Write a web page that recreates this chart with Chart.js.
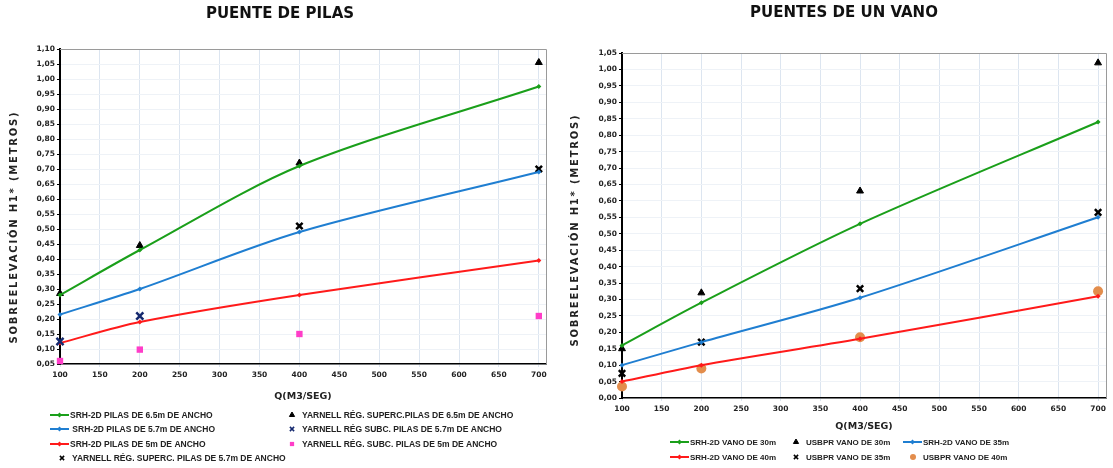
<!DOCTYPE html>
<html>
<head>
<meta charset="utf-8">
<script src="https://cdn.jsdelivr.net/npm/chart.js@4.4.0/dist/chart.umd.min.js"></script>
<style>
  body { margin: 0; background: #fff; }
  #wrap { position: relative; width: 1113px; height: 468px; }
  #chart1 { position: absolute; left: 0; top: 0; }
  #chart2 { position: absolute; left: 560px; top: 0; }
</style>
</head>
<body>
<div id="wrap">
  <canvas id="chart1" width="560" height="468"></canvas>
  <canvas id="chart2" width="553" height="468"></canvas>
</div>
<script>
// caudales Q (m3/seg)
const caudales = [100, 200, 400, 700];

// puente de pilas
const srhPilas65 = [0.28, 0.43, 0.71, 0.975];
const srhPilas57 = [0.215, 0.30, 0.49, 0.69];
const srhPilas5 = [0.12, 0.19, 0.28, 0.395];
const yarnellSuperc65 = [0.285, 0.445, 0.72, 1.055];
const caudalesSubc57 = [100, 200];
const yarnellSubc57 = [0.125, 0.21];
const yarnellSubc5 = [0.06, 0.098, 0.15, 0.21];
const caudalesSuperc57 = [400, 700];
const yarnellSuperc57 = [0.51, 0.70];

// puentes de un vano
const srhVano30 = [0.16, 0.29, 0.53, 0.84];
const usbprVano30 = [0.15, 0.32, 0.63, 1.02];
const srhVano35 = [0.10, 0.17, 0.305, 0.55];
const srhVano40 = [0.05, 0.10, 0.18, 0.31];
const usbprVano35 = [0.075, 0.17, 0.333, 0.565];
const usbprVano40 = [0.035, 0.09, 0.185, 0.325];

const Y_TITLE = 'SOBREELEVACIÓN H1* (METROS)';
const FONT = 'DejaVu Sans';
const TXT = '#222';

const pts = (xs, ys) => xs.map((x, i) => ({ x: x, y: ys[i] }));
const fmt = v => Number(v).toFixed(2).replace('.', ',');

const lineSet = (label, xs, ys, color) => ({
    label: label,
    data: pts(xs, ys),
    borderColor: color,
    backgroundColor: color,
    borderWidth: 2,
    tension: 0.3,
    pointStyle: 'rectRot',
    pointRadius: 2.5,
    pointBorderWidth: 0,
    clip: false,
});

const markSet = (label, xs, ys, color, style, radius, bw) => ({
    label: label,
    data: pts(xs, ys),
    showLine: false,
    borderColor: color,
    backgroundColor: color,
    pointStyle: style,
    pointRadius: radius,
    pointBorderWidth: bw,
    clip: false,
});

// titulo, titulo del eje y, borde del grafico y leyenda dibujados a mano
const extras = {
    id: 'extras',
    beforeDatasetsDraw(chart) {
        const a = chart.chartArea, ctx = chart.ctx;
        ctx.save();
        ctx.strokeStyle = '#9a9a9a';
        ctx.lineWidth = 1;
        ctx.beginPath();
        ctx.moveTo(a.left, a.top + 0.5);
        ctx.lineTo(a.right + 0.5, a.top + 0.5);
        ctx.lineTo(a.right + 0.5, a.bottom);
        ctx.stroke();
        ctx.restore();
    },
    afterDraw(chart, args, opts) {
        const ctx = chart.ctx;
        ctx.save();
        ctx.fillStyle = '#111';
        ctx.font = 'bold 15px ' + FONT;
        ctx.textAlign = 'center';
        ctx.textBaseline = 'middle';
        ctx.fillText(opts.title, opts.titleX, opts.titleY);

        // eje y con letras espaciadas
        ctx.save();
        ctx.translate(opts.yTitleX, opts.yTitleY);
        ctx.rotate(-Math.PI / 2);
        ctx.fillStyle = TXT;
        ctx.font = 'bold 10px ' + FONT;
        ctx.letterSpacing = '1.8px';
        ctx.fillText(Y_TITLE, 0, 0);
        ctx.restore();

        ctx.font = 'bold ' + opts.legendSize + 'px "Liberation Sans"';
        ctx.textAlign = 'left';
        chart.data.datasets.forEach((ds, i) => {
            const p = opts.legend[i];
            const x = p[0], y = p[1];
            ctx.fillStyle = ds.backgroundColor;
            ctx.strokeStyle = ds.borderColor;
            let tx;
            if (ds.showLine === false) {
                ctx.lineWidth = Math.min(ds.pointBorderWidth, 1.5);
                Chart.helpers.drawPoint(ctx, {
                    pointStyle: ds.pointStyle,
                    radius: Math.min(ds.pointRadius, 3),
                    borderWidth: ds.pointBorderWidth,
                    rotation: 0
                }, x, y);
                tx = x + 10;
            } else {
                ctx.lineWidth = 2;
                ctx.beginPath();
                ctx.moveTo(x, y);
                ctx.lineTo(x + 19, y);
                ctx.stroke();
                Chart.helpers.drawPoint(ctx, {
                    pointStyle: ds.pointStyle, radius: 2.5, borderWidth: 0, rotation: 0
                }, x + 9.5, y);
                tx = x + 20;
            }
            ctx.fillStyle = TXT;
            ctx.fillText(ds.label, tx, y + 0.5);
        });
        ctx.restore();
    }
};

const scales = (xmax, ymin, ymax, yWidth, xHeight, xTitlePad) => ({
    x: {
        type: 'linear',
        min: 100,
        max: xmax,
        ticks: {
            stepSize: 50,
            includeBounds: false,
            color: TXT,
            font: { family: FONT, size: 7.5, weight: 'bold' },
            padding: 4,
            maxRotation: 0,
        },
        grid: { color: '#dce5f0', tickLength: 3, tickColor: '#dce5f0' },
        border: { color: '#000', width: 1.5 },
        title: {
            display: true,
            text: 'Q(M3/SEG)',
            color: TXT,
            font: { family: FONT, size: 9.5, weight: 'bold' },
            padding: { top: 0, bottom: xTitlePad },
        },
        afterFit: s => { s.height = xHeight; },
    },
    y: {
        min: ymin,
        max: ymax,
        ticks: {
            stepSize: 0.05,
            callback: v => fmt(v),
            color: TXT,
            font: { family: FONT, size: 7.5, weight: 'bold' },
            padding: 2,
        },
        grid: { color: '#eef2f7', tickLength: 3, tickColor: '#000' },
        border: { color: '#000', width: 2 },
        afterFit: s => { s.width = yWidth; },
    },
});

const createChart = (id, datasets, sc, padding, extraOpts) => {
    new Chart(document.getElementById(id), {
        type: 'line',
        data: { datasets: datasets },
        options: {
            responsive: false,
            animation: false,
            layout: { padding: padding },
            scales: sc,
            plugins: {
                legend: { display: false },
                tooltip: { enabled: false },
                extras: extraOpts,
            },
        },
        plugins: [extras],
    });
};

window.onload = () => {
    createChart('chart1', [
        lineSet('SRH-2D PILAS DE 6.5m DE ANCHO', caudales, srhPilas65, '#1a9f1a'),
        markSet('YARNELL RÉG. SUPERC.PILAS DE 6.5m DE ANCHO', caudales, yarnellSuperc65, '#000', 'triangle', 4, 1),
        lineSet(' SRH-2D PILAS DE 5.7m DE ANCHO', caudales, srhPilas57, '#1f7ed1'),
        markSet('YARNELL RÉG SUBC. PILAS DE 5.7m DE ANCHO', caudalesSubc57, yarnellSubc57, '#14286e', 'crossRot', 5, 2.5),
        lineSet('SRH-2D PILAS DE 5m DE ANCHO', caudales, srhPilas5, '#ff1a1a'),
        markSet('YARNELL RÉG. SUBC. PILAS DE 5m DE ANCHO', caudales, yarnellSubc5, '#ff3dc8', 'rect', 4.5, 0),
        markSet('YARNELL RÉG. SUPERC. PILAS DE 5.7m DE ANCHO', caudalesSuperc57, yarnellSuperc57, '#000', 'crossRot', 4.5, 2.5),
    ], scales(709, 0.05, 1.10, 60, 40, 2), { top: 49, right: 14, bottom: 64, left: 0 }, {
        title: 'PUENTE DE PILAS', titleX: 280, titleY: 14, legendSize: 8.5,
        yTitleX: 14, yTitleY: 227,
        legend: [[50, 415], [292, 415], [50, 429], [292, 429], [50, 444], [292, 444], [62, 458]],
    });

    createChart('chart2', [
        lineSet('SRH-2D VANO DE 30m', caudales, srhVano30, '#1a9f1a'),
        markSet('USBPR VANO DE 30m', caudales, usbprVano30, '#000', 'triangle', 4, 1),
        lineSet('SRH-2D VANO DE 35m', caudales, srhVano35, '#1f7ed1'),
        lineSet('SRH-2D VANO DE 40m', caudales, srhVano40, '#ff1a1a'),
        markSet('USBPR VANO DE 35m', caudales, usbprVano35, '#000', 'crossRot', 4.5, 2.5),
        markSet('USBPR VANO DE 40m', caudales, usbprVano40, '#e38d4c', 'circle', 5, 0),
    ], scales(710, 0, 1.05, 62, 40, 6), { top: 53, right: 4, bottom: 30, left: 0 }, {
        title: 'PUENTES DE UN VANO', titleX: 284, titleY: 13, legendSize: 8,
        yTitleX: 15, yTitleY: 230,
        legend: [[110, 442], [236, 442], [343, 442], [110, 457], [236, 457], [353, 457]],
    });
};
</script>
</body>
</html>
